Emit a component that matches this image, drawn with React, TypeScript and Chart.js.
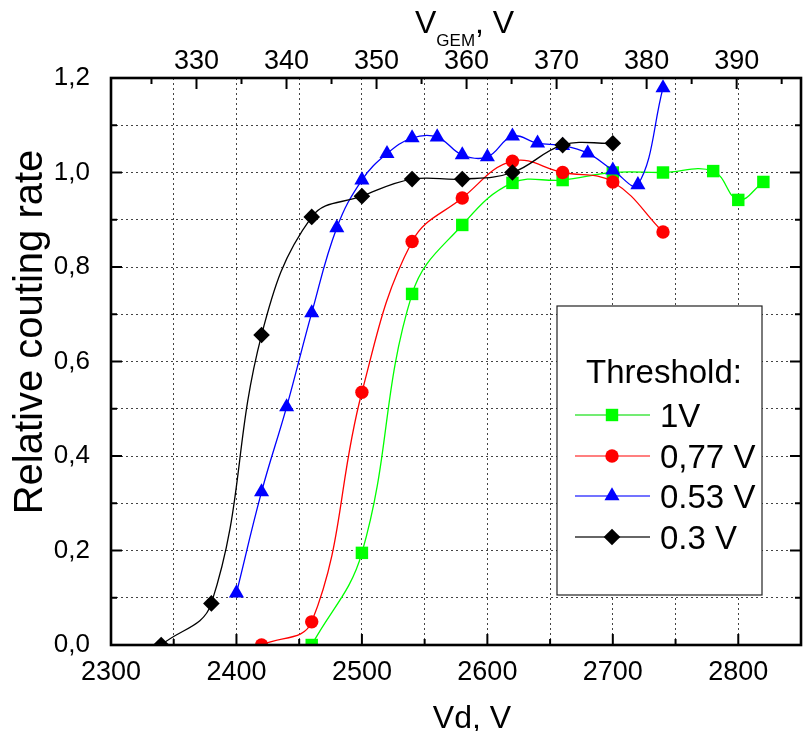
import React, { useEffect, useRef } from 'react';
import { Chart, registerables } from 'chart.js';

Chart.register(...registerables);

const FONT = '"Liberation Sans", Arial, Helvetica, sans-serif';

// ---- data (Vd in V, relative counting rate) ----
const vd1V = [2460, 2500, 2540, 2580, 2620, 2660, 2700, 2740, 2780, 2800, 2820];
const rate1V = [0.0, 0.195, 0.743, 0.889, 0.978, 0.984, 1.0, 1.0, 1.003, 0.942, 0.98];

const vd077 = [2420, 2460, 2500, 2540, 2580, 2620, 2660, 2700, 2740];
const rate077 = [0.0, 0.049, 0.535, 0.854, 0.946, 1.024, 1.0, 0.98, 0.874];

const vd053 = [2400, 2420, 2440, 2460, 2480, 2500, 2520, 2540, 2560, 2580, 2600, 2620, 2640, 2660, 2680, 2700, 2720, 2740];
const rate053 = [0.11, 0.324, 0.504, 0.703, 0.883, 0.984, 1.04, 1.073, 1.075, 1.037, 1.033, 1.077, 1.062, 1.057, 1.041, 1.005, 0.974, 1.179];

const vd03 = [2340, 2380, 2420, 2460, 2500, 2540, 2580, 2620, 2660, 2700];
const rate03 = [0.0, 0.088, 0.656, 0.906, 0.95, 0.986, 0.986, 1.0, 1.058, 1.062];

const seriesLabels = ['1V', '0,77 V', '0.53 V', '0.3 V'];
const seriesColors = ['#00ff00', '#ff0000', '#0000ff', '#000000'];
const legendLineColors = ['rgba(0,220,0,0.55)', 'rgba(255,0,0,0.5)', 'rgba(0,0,255,0.55)', 'rgba(0,0,0,0.6)'];

// ---- axes ----
const X_MIN = 2300;
const X_MAX = 2850;
const Y_MIN = 0;
const Y_MAX = 1.2;
const GEM_RATIO = 0.13935; // V_GEM / Vd
const xTicks = [2300, 2350, 2400, 2450, 2500, 2550, 2600, 2650, 2700, 2750, 2800, 2850];
const yTicks = [0, 0.1, 0.2, 0.3, 0.4, 0.5, 0.6, 0.7, 0.8, 0.9, 1.0, 1.1, 1.2];
const gemTicks = [325, 330, 335, 340, 345, 350, 355, 360, 365, 370, 375, 380, 385, 390, 395];

const toPts = (xs: number[], ys: number[]) => xs.map((x, i) => ({ x, y: ys[i] }));

function drawMarker(ctx: CanvasRenderingContext2D, kind: number, x: number, y: number) {
  ctx.beginPath();
  if (kind === 0) {
    ctx.rect(x - 6.2, y - 6.2, 12.4, 12.4);
  } else if (kind === 1) {
    ctx.arc(x, y, 6.7, 0, Math.PI * 2);
  } else if (kind === 2) {
    const r = 8.7;
    ctx.moveTo(x, y - r);
    ctx.lineTo(x + r * 0.866, y + r * 0.5);
    ctx.lineTo(x - r * 0.866, y + r * 0.5);
    ctx.closePath();
  } else {
    const r = 8.3;
    ctx.moveTo(x, y - r);
    ctx.lineTo(x + r, y);
    ctx.lineTo(x, y + r);
    ctx.lineTo(x - r, y);
    ctx.closePath();
  }
  ctx.fill();
}

const decorPlugin = {
  id: 'decor',
  afterDraw(chart: any) {
    const { ctx, chartArea: a, scales } = chart;
    ctx.save();

    // legend box
    const bx = 557, by = 306, bw = 205, bh = 289;
    ctx.fillStyle = '#fff';
    ctx.fillRect(bx, by, bw, bh);
    ctx.strokeStyle = '#222';
    ctx.lineWidth = 1.2;
    ctx.strokeRect(bx, by, bw, bh);
    ctx.fillStyle = '#000';
    ctx.font = `33px ${FONT}`;
    ctx.textAlign = 'center';
    ctx.textBaseline = 'alphabetic';
    ctx.fillText('Threshold:', 664, 383);
    const rows = [415, 456, 496, 537];
    rows.forEach((ry, i) => {
      ctx.strokeStyle = legendLineColors[i];
      ctx.lineWidth = 2;
      ctx.beginPath();
      ctx.moveTo(575, ry);
      ctx.lineTo(650, ry);
      ctx.stroke();
      ctx.fillStyle = seriesColors[i];
      drawMarker(ctx, i, 612, ry);
      ctx.fillStyle = '#000';
      ctx.textAlign = 'left';
      ctx.fillText(seriesLabels[i], 660, ry + 11.8);
    });

    // tick marks (inward)
    ctx.strokeStyle = '#000';
    ctx.lineWidth = 2;
    const line = (x1: number, y1: number, x2: number, y2: number) => {
      ctx.beginPath();
      ctx.moveTo(x1, y1);
      ctx.lineTo(x2, y2);
      ctx.stroke();
    };
    scales.x.ticks.forEach((t: any) => {
      const px = scales.x.getPixelForValue(t.value);
      const len = t.value % 100 === 0 ? 11 : 6;
      line(px, a.bottom, px, a.bottom - len);
    });
    scales.x2.ticks.forEach((t: any) => {
      const px = scales.x2.getPixelForValue(t.value);
      const len = t.value % 10 === 0 ? 11 : 6;
      line(px, a.top, px, a.top + len);
    });
    scales.y.ticks.forEach((t: any) => {
      const py = scales.y.getPixelForValue(t.value);
      const len = Math.round(t.value * 10) % 2 === 0 ? 11 : 6;
      line(a.left, py, a.left + len, py);
      line(a.right, py, a.right - len, py);
    });

    // frame
    ctx.lineWidth = 2.6;
    ctx.strokeRect(a.left, a.top, a.right - a.left, a.bottom - a.top);

    // axis titles
    ctx.fillStyle = '#000';
    ctx.textBaseline = 'alphabetic';
    ctx.textAlign = 'center';
    ctx.font = `32px ${FONT}`;
    ctx.fillText('Vd, V', 472, 728);

    // top title V_GEM, V
    ctx.textAlign = 'left';
    let tx = 415;
    ctx.font = `32px ${FONT}`;
    ctx.fillText('V', tx, 33);
    tx += ctx.measureText('V').width;
    ctx.font = `17px ${FONT}`;
    ctx.fillText('GEM', tx, 46);
    tx += ctx.measureText('GEM').width;
    ctx.font = `32px ${FONT}`;
    ctx.fillText(', V', tx, 33);

    // y title
    ctx.save();
    ctx.translate(42, 332);
    ctx.rotate(-Math.PI / 2);
    ctx.textAlign = 'center';
    ctx.font = `40px ${FONT}`;
    ctx.fillText('Relative couting rate', 0, 0);
    ctx.restore();

    ctx.restore();
  },
};

export default function App() {
  const ref = useRef<HTMLCanvasElement | null>(null);

  useEffect(() => {
    if (!ref.current) return;
    const mk = (i: number, xs: number[], ys: number[], style: string, radius: number, order: number) => ({
      label: seriesLabels[i],
      data: toPts(xs, ys),
      borderColor: seriesColors[i],
      backgroundColor: seriesColors[i],
      pointBackgroundColor: seriesColors[i],
      pointBorderColor: seriesColors[i],
      pointBorderWidth: 0,
      pointStyle: style,
      pointRadius: radius,
      borderWidth: 1.3,
      tension: 0.4,
      fill: false,
      order,
    });

    const chart = new Chart(ref.current, {
      type: 'line',
      data: {
        datasets: [
          mk(0, vd1V, rate1V, 'rect', 8.8, 3),
          mk(1, vd077, rate077, 'circle', 6.7, 2),
          mk(2, vd053, rate053, 'triangle', 8.7, 1),
          mk(3, vd03, rate03, 'rectRot', 8.3, 0),
        ],
      },
      options: {
        responsive: false,
        animation: false,
        devicePixelRatio: 1,
        layout: { padding: { left: 0, right: 2, top: 0, bottom: 0 } },
        plugins: {
          legend: { display: false },
          tooltip: { enabled: false },
          title: { display: false },
        },
        scales: {
          x: {
            type: 'linear',
            position: 'bottom',
            min: X_MIN,
            max: X_MAX,
            afterBuildTicks: (s: any) => { s.ticks = xTicks.map((v) => ({ value: v })); },
            afterFit: (s: any) => { s.height = 86; },
            ticks: {
              autoSkip: false,
              maxRotation: 0,
              minRotation: 0,
              padding: 11,
              color: '#000',
              font: { family: FONT, size: 27 },
              callback: (v: any) => (Number(v) % 100 === 0 ? String(v) : ''),
            },
            grid: { display: true, drawTicks: false, color: '#444', lineWidth: 1 },
            border: { display: false, dash: [2, 3] },
          },
          x2: {
            type: 'linear',
            position: 'top',
            min: X_MIN * GEM_RATIO,
            max: X_MAX * GEM_RATIO,
            afterBuildTicks: (s: any) => { s.ticks = gemTicks.map((v) => ({ value: v })); },
            afterFit: (s: any) => { s.height = 78; },
            ticks: {
              autoSkip: false,
              maxRotation: 0,
              minRotation: 0,
              padding: 0,
              color: '#000',
              font: { family: FONT, size: 27 },
              callback: (v: any) => (Number(v) % 10 === 0 ? String(v) : ''),
            },
            grid: { display: false, drawTicks: false },
            border: { display: false },
          },
          y: {
            type: 'linear',
            position: 'left',
            min: Y_MIN,
            max: Y_MAX,
            afterBuildTicks: (s: any) => { s.ticks = yTicks.map((v) => ({ value: v })); },
            afterFit: (s: any) => { s.width = 111; },
            ticks: {
              autoSkip: false,
              padding: 21,
              color: '#000',
              font: { family: FONT, size: 26 },
              callback: (v: any) => {
                const k = Math.round(Number(v) * 10);
                return k % 2 === 0 ? (k / 10).toFixed(1).replace('.', ',') : '';
              },
            },
            grid: { display: true, drawTicks: false, color: '#444', lineWidth: 1 },
            border: { display: false, dash: [2, 3] },
          },
        },
      },
      plugins: [decorPlugin],
    } as any);

    return () => chart.destroy();
  }, []);

  return (
    <div style={{ position: 'fixed', left: 0, top: 0, width: 808, height: 731, overflow: 'hidden', background: '#fff' }}>
      <canvas ref={ref} width={812} height={731} style={{ display: 'block', width: 812, height: 731 }} />
    </div>
  );
}
